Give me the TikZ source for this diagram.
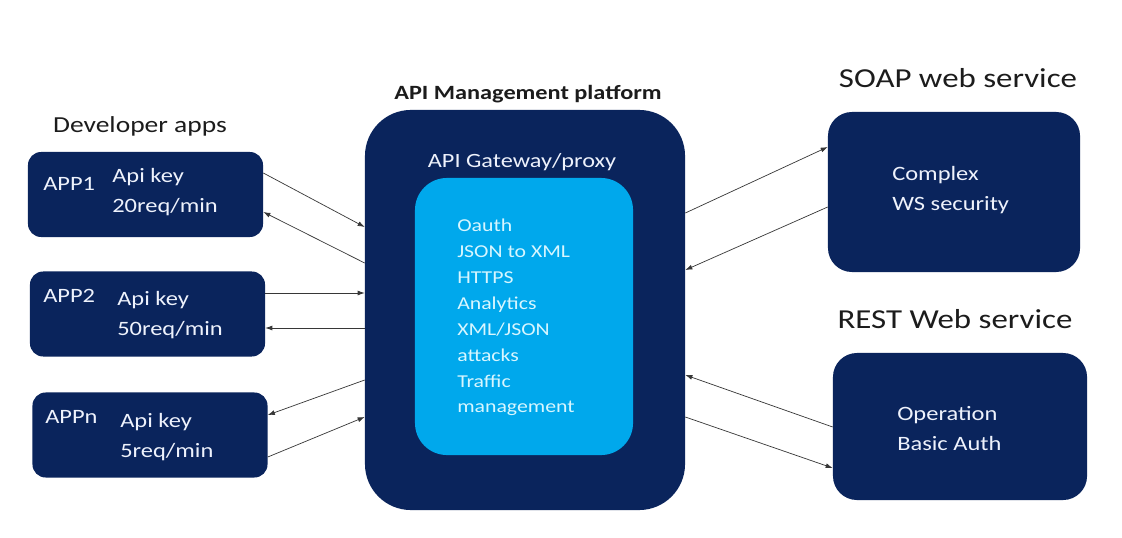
\documentclass[tikz,border=0pt]{standalone}
\usepackage{fontspec}
\setmainfont{Carlito}[FakeStretch=1.2]
\usetikzlibrary{arrows.meta, calc}
\definecolor{navy1}{RGB}{10, 36, 92}
\definecolor{sky1}{RGB}{0, 168, 236}
\definecolor{boxtxt}{RGB}{238, 242, 252}
\definecolor{skytxt}{RGB}{215, 246, 255}
\definecolor{linegray}{RGB}{55, 55, 55}
\definecolor{titletxt}{RGB}{28, 28, 28}

\tikzset{
  appbox/.style={fill=navy1, rounded corners=0.33cm, minimum width=5.875cm, minimum height=2.125cm},
  svcbox/.style={fill=navy1, rounded corners=0.6cm},
  boxtext/.style={text=boxtxt, inner sep=0pt, align=left, font=\fontsize{14.5}{21.3}\selectfont},
  title/.style={text=titletxt, inner sep=0pt, anchor=base},
  conn/.style={draw=linegray, line width=0.5pt, -{Latex[length=5pt, width=3.5pt]}}
}

\begin{document}
\begin{tikzpicture}[x=0.025cm, y=-0.025cm]
  \useasboundingbox[fill=white] (0,0) rectangle (1122,538);

  % Developer apps
  \node[title, font=\fontsize{16.3}{20}\selectfont] (devtitle) at (140,133) {Developer apps};
  \node[appbox] (app1) at (145.5,194.5) {};
  \node[appbox] (app2) at (147.5,314) {};
  \node[appbox] (appn) at (150,435) {};
  \node[boxtext, anchor=base west] (app1name) at (43,190) {APP1};
  \node[boxtext, anchor=north west] (app1key) at (112,168) {Api key\\20req/min};
  \node[boxtext, anchor=base west] (app2name) at (43,302) {APP2};
  \node[boxtext, anchor=north west] (app2key) at (117,291) {Api key\\50req/min};
  \node[boxtext, anchor=base west] (appnname) at (45,423) {APPn};
  \node[boxtext, anchor=north west] (appnkey) at (120,413) {Api key\\5req/min};

  % Platform
  \node[title, font=\fontsize{14.4}{18}\selectfont\bfseries] (plattitle) at (528,100) {API Management platform};
  \node[fill=navy1, rounded corners=1.15cm, minimum width=8cm, minimum height=10cm] (plat) at (525,310) {};
  \node[title, text=boxtxt, font=\fontsize{14.4}{18}\selectfont] (gwtitle) at (522,167) {API Gateway/proxy};
  \node[fill=sky1, rounded corners=0.8cm, minimum width=5.45cm, minimum height=6.925cm] (gw) at (524,316.5) {};
  \node[boxtext, text=skytxt, anchor=north west, font=\fontsize{12.9}{18.4}\selectfont] (policies) at (457,219)
    {Oauth\\JSON to XML\\HTTPS\\Analytics\\XML/JSON\\attacks\\Traffic\\management};

  % Backend services
  \node[title, font=\fontsize{19.5}{24}\selectfont] (soaptitle) at (958,88) {SOAP web service};
  \node[svcbox, minimum width=6.3cm, minimum height=4cm] (soap) at (954,192) {};
  \node[boxtext, anchor=north west] (soaptext) at (892,166) {Complex\\WS security};
  \node[title, font=\fontsize{19.5}{24}\selectfont] (resttitle) at (955,328) {REST Web service};
  \node[svcbox, minimum width=6.35cm, minimum height=3.675cm] (rest) at (960,426.5) {};
  \node[boxtext, anchor=north west] (resttext) at (897,406) {Operation\\Basic Auth};

  % Apps <-> platform
  \draw[conn] ($(app1.east)+(0,-21.5)$) -- ($(plat.west)+(0,-83)$);
  \draw[conn] ($(plat.west)+(0,-47)$) -- ($(app1.east)+(0,17.5)$);
  \draw[conn] ($(app2.east)+(0,-21)$) -- ($(plat.west)+(0,-17)$);
  \draw[conn] ($(plat.west)+(0,18)$) -- ($(app2.east)+(0,14)$);
  \draw[conn] ($(plat.west)+(0,70)$) -- ($(appn.east)+(0,-20)$);
  \draw[conn] ($(appn.east)+(0,22)$) -- ($(plat.west)+(0,107)$);

  % Platform <-> services
  \draw[conn] ($(plat.east)+(0,-97)$) -- ($(soap.west)+(0,-45)$);
  \draw[conn] ($(soap.west)+(0,15)$) -- ($(plat.east)+(0,-40)$);
  \draw[conn] ($(rest.west)+(0,0.5)$) -- ($(plat.east)+(0,65)$);
  \draw[conn] ($(plat.east)+(0,107)$) -- ($(rest.west)+(0,41.5)$);
\end{tikzpicture}
\end{document}
